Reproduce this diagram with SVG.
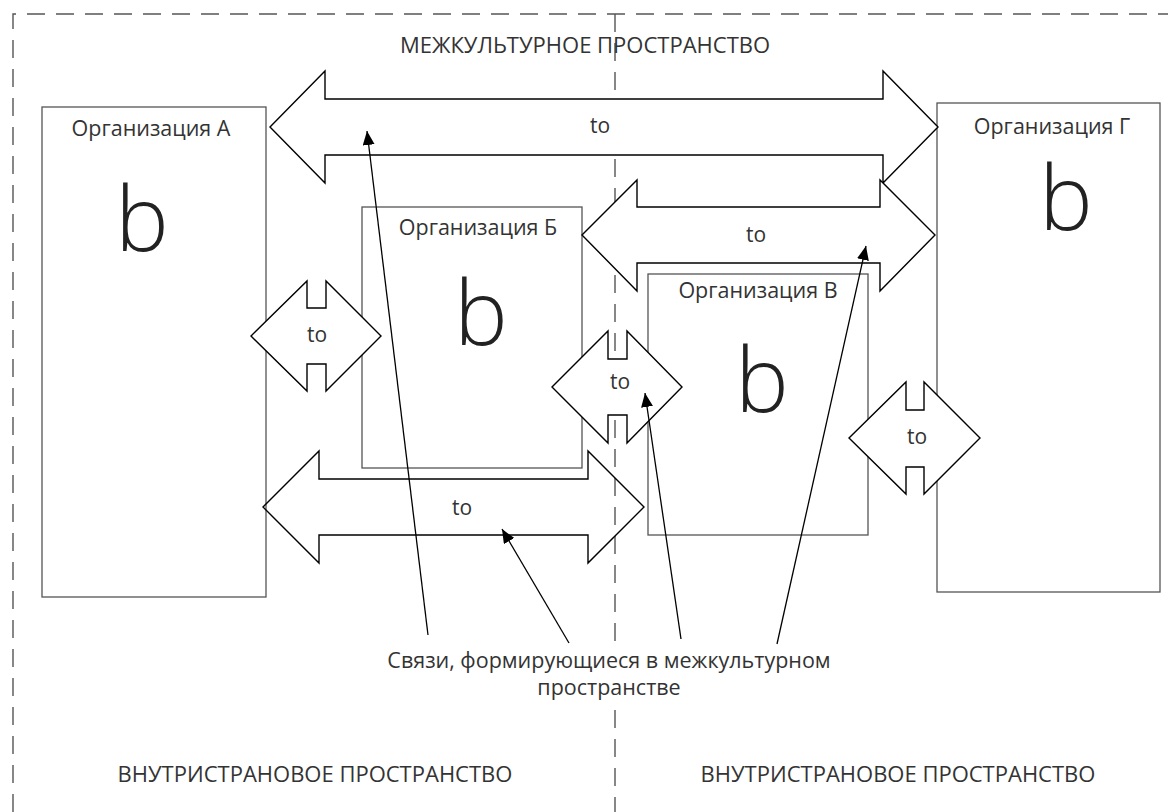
<svg xmlns="http://www.w3.org/2000/svg" width="1168" height="812" viewBox="0 0 1168 812">
<defs>
<style>
.bnd{fill:none;stroke:#555;stroke-width:1.4;stroke-dasharray:18 11}
.org{fill:#fff;stroke:#555;stroke-width:1.3}
.arr{fill:#fff;stroke:#000;stroke-width:1.4;stroke-linejoin:miter}
.ptr{fill:none;stroke:#000;stroke-width:1.3}
.t{font-family:"Open Sans","Liberation Sans",sans-serif;fill:#333;text-anchor:middle}
.lbl{font-size:21.5px}
.to{font-size:21px}
.big{font-size:90px;fill:#222;font-weight:300}
.hd{font-size:22px}
.note{font-size:21.5px}
</style>
<marker id="ah" markerUnits="userSpaceOnUse" markerWidth="14" markerHeight="12" refX="14" refY="6" orient="auto">
<path d="M0,0 L14,6 L0,12 z" fill="#000"/>
</marker>
</defs>
<rect width="1168" height="812" fill="#fff"/>

<g id="boundaries">
<path class="bnd" d="M13,812 L13,14 L1168,14"/>
<path class="bnd" d="M615,14 L615,812"/>
</g>

<g id="org-a">
<rect class="org" x="42" y="107" width="224" height="490"/>
<text class="t lbl" x="151" y="136">Организация А</text>
<text class="t big" x="142" y="251">b</text>
</g>
<g id="org-b">
<rect class="org" x="362" y="207" width="220" height="261"/>
<text class="t lbl" x="478" y="235">Организация Б</text>
<text class="t big" x="481" y="345">b</text>
</g>
<g id="org-v">
<rect class="org" x="648" y="274" width="220" height="261"/>
<text class="t lbl" x="758" y="298">Организация В</text>
<text class="t big" x="762" y="412">b</text>
</g>
<g id="org-g">
<rect class="org" x="937" y="103" width="223" height="489"/>
<text class="t lbl" x="1052" y="134">Организация Г</text>
<text class="t big" x="1066" y="230">b</text>
</g>

<g id="link-bottom">
<polygon class="arr" style="fill:none" points="263,507 319,451 319,479 588,479 588,451 644,507 588,563 588,535 319,535 319,563"/>
<text class="t to" x="462" y="515">to</text>
</g>
<g id="link-top">
<polygon class="arr" points="270,127 325,71 325,99 883,99 883,71 938,127 883,183 883,155 325,155 325,183"/>
<text class="t to" x="600" y="133">to</text>
</g>
<g id="link-bg">
<polygon class="arr" points="582,235 637,180 637,207 880,207 880,180 935,235 880,291 880,263 637,263 637,291"/>
<text class="t to" x="756" y="242">to</text>
</g>
<g id="link-ab">
<polygon class="arr" points="251,336 307,281 307,308 326,308 326,281 381,336 326,391 326,364 307,364 307,391"/>
<text class="t to" x="317" y="342">to</text>
</g>
<g id="link-bv">
<polygon class="arr" points="552,387 608,331 608,359 627,359 627,331 682,387 627,443 627,415 608,415 608,443"/>
<text class="t to" x="620" y="389">to</text>
</g>
<g id="link-vg">
<polygon class="arr" points="849,438 906,382 906,410 924,410 924,382 980,438 924,494 924,467 906,467 906,494"/>
<text class="t to" x="917" y="444">to</text>
</g>

<g id="note">
<rect x="380" y="647" width="460" height="60" fill="#fff"/>
<text class="t note" x="609" y="668">Связи, формирующиеся в межкультурном</text>
<text class="t note" x="609" y="695">пространстве</text>
</g>

<g id="connectors">
<line class="ptr" x1="428" y1="635" x2="367" y2="131" marker-end="url(#ah)"/>
<line class="ptr" x1="569" y1="643" x2="502" y2="529" marker-end="url(#ah)"/>
<line class="ptr" x1="681" y1="639" x2="645" y2="393" marker-end="url(#ah)"/>
<line class="ptr" x1="777" y1="644" x2="866" y2="246" marker-end="url(#ah)"/>
</g>

<g id="headings">
<text class="t hd" x="585" y="53">МЕЖКУЛЬТУРНОЕ ПРОСТРАНСТВО</text>
<text class="t hd" x="315" y="782">ВНУТРИСТРАНОВОЕ ПРОСТРАНСТВО</text>
<text class="t hd" x="898" y="782">ВНУТРИСТРАНОВОЕ ПРОСТРАНСТВО</text>
</g>
</svg>
